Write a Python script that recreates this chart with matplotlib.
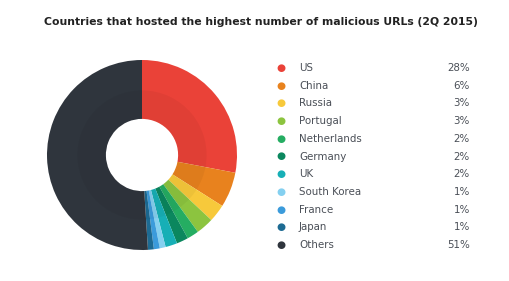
import matplotlib.pyplot as plt

countries = ['US', 'China', 'Russia', 'Portugal', 'Netherlands', 'Germany',
             'UK', 'South Korea', 'France', 'Japan', 'Others']
shares = [28, 6, 3, 3, 2, 2, 2, 1, 1, 1, 51]
colors = ['#ea4238', '#e8821e', '#f7c93b', '#8cc43f', '#25ad62', '#0b875e',
          '#17afb6', '#84d0f0', '#3b9bdb', '#1d6b93', '#2f353d']

W, H = 510, 281
fig = plt.figure(figsize=(W / 100, H / 100), dpi=100)
fig.patch.set_facecolor('white')

fig.text(261 / W, 1 - 22 / H,
         'Countries that hosted the highest number of malicious URLs (2Q 2015)',
         ha='center', va='center', fontsize=7.8, fontweight='bold', color='#222222')

# donut
cx, cy, r = 142, 155, 95
ax = fig.add_axes([(cx - r) / W, (H - cy - r) / H, 2 * r / W, 2 * r / H])
ax.pie(shares, colors=colors, startangle=90, counterclock=False, radius=1.0,
       wedgeprops=dict(width=0.62, linewidth=0))
# subtle darker inner band
ax.pie(shares, colors=['black'] * len(shares), startangle=90, counterclock=False,
       radius=0.68, wedgeprops=dict(width=0.30, linewidth=0, alpha=0.04))
ax.set_xlim(-1, 1)
ax.set_ylim(-1, 1)
ax.set_aspect('equal')
ax.axis('off')

# legend
y0, dy = 68, 17.7
for i, (name, val, col) in enumerate(zip(countries, shares, colors)):
    y = 1 - (y0 + i * dy) / H
    fig.text(281 / W, y, '\u25cf', ha='center', va='center', fontsize=7.5, color=col)
    fig.text(299 / W, y, name, ha='left', va='center', fontsize=7.4, color='#4a4f57')
    fig.text(470 / W, y, f'{val}%', ha='right', va='center', fontsize=7.4, color='#4a4f57')

fig.savefig('out.png', dpi=100)
